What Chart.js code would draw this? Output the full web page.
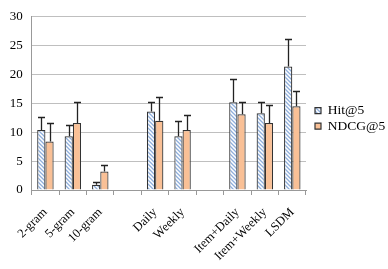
<!DOCTYPE html>
<html><head><meta charset="utf-8">
<script src="https://cdn.jsdelivr.net/npm/chart.js@4/dist/chart.umd.min.js"></script>
<style>html,body{margin:0;padding:0;background:#fff}#wrap{width:388px;height:269px}</style>
</head><body><div id="wrap"><canvas id="c" width="388" height="269"></canvas></div>
<script>
const categories = ['2-gram','5-gram','10-gram','','Daily','Weekly','','Item+Daily','Item+Weekly','LSDM'];
const hitValues = [10.4, 9.3, 0.9, null, 13.6, 9.3, null, 15.2, 13.3, 21.4];
const hitUpper  = [12.7, 11.3, 1.4, null, 15.3, 12.0, null, 19.3, 15.2, 26.1];
const ndcgValues = [8.4, 11.6, 3.2, null, 12.0, 10.4, null, 13.1, 11.6, 14.5];
const ndcgUpper  = [11.6, 15.3, 4.3, null, 16.1, 13.0, null, 15.2, 14.7, 17.1];
const yTicks = [0, 5, 10, 15, 20, 25, 30];
const seriesNames = ['Hit@5', 'NDCG@5'];

function hatch() {
  const p = document.createElement('canvas');
  p.width = 4; p.height = 4;
  const g = p.getContext('2d');
  g.fillStyle = '#ffffff'; g.fillRect(0,0,4,4);
  g.strokeStyle = '#8EAEDB'; g.lineWidth = 1.3;
  g.beginPath();
  g.moveTo(-1,-1); g.lineTo(5,5);
  g.moveTo(-1,3); g.lineTo(1,5);
  g.moveTo(3,-1); g.lineTo(5,1);
  g.stroke();
  return g.createPattern(p, 'repeat');
}
const font = "'Liberation Serif', 'Times New Roman', serif";
const uppers = [hitUpper, ndcgUpper];

const errorBars = {
  id: 'errorBars',
  afterDatasetsDraw(chart) {
    const c = chart.ctx, ys = chart.scales.y;
    c.save();
    c.strokeStyle = '#222'; c.lineWidth = 1.3;
    chart.data.datasets.forEach((ds, di) => {
      const meta = chart.getDatasetMeta(di);
      meta.data.forEach((bar, i) => {
        const up = uppers[di][i];
        if (up == null || ds.data[i] == null) return;
        const yt = Math.round(ys.getPixelForValue(up)) + 0.5;
        const x = Math.round(bar.x) + 0.5;
        c.beginPath();
        c.moveTo(x, bar.y); c.lineTo(x, yt);
        c.moveTo(x - 3.5, yt); c.lineTo(x + 3.5, yt);
        c.stroke();
      });
    });
    c.restore();
  }
};

function draw() {
  const ctx = document.getElementById('c').getContext('2d');
  new Chart(ctx, {
    type: 'bar',
    data: {
      labels: categories,
      datasets: [
        { label: seriesNames[0], data: hitValues, backgroundColor: hatch(), borderColor: '#333', borderWidth: 1.2 },
        { label: seriesNames[1], data: ndcgValues, backgroundColor: '#F9C096', borderColor: '#333', borderWidth: 1.2 }
      ]
    },
    options: {
      responsive: false,
      animation: false,
      devicePixelRatio: 1,
      layout: { padding: { top: 15, right: 0, left: 0, bottom: 0 } },
      datasets: { bar: { categoryPercentage: 0.6, barPercentage: 1.0 } },
      plugins: {
        legend: {
          position: 'right',
          fullSize: false,
          maxWidth: 75,
          title: { display: true, text: ' ', font: { family: font, size: 14, lineHeight: 1.2 }, padding: { top: 13.2, bottom: 0 } },
          labels: {
            font: { family: font, size: 13.5 },
            color: '#000',
            boxWidth: 6, boxHeight: 6,
            padding: 2
          }
        },
        tooltip: { enabled: false }
      },
      scales: {
        x: {
          grid: {
            offset: true,
            drawOnChartArea: true,
            color: (c) => (c.index === categories.length ? '#B5B5B5' : 'rgba(0,0,0,0)'),
            tickColor: '#999',
            tickLength: 5
          },
          border: { color: '#999' },
          ticks: {
            font: { family: font, size: 12.5 }, color: '#000',
            minRotation: 45, maxRotation: 45, autoSkip: false, padding: 10
          },
          afterFit(s) { s.height = 79; }
        },
        y: {
          min: 0, max: 30,
          afterBuildTicks(s) { s.ticks = yTicks.map(v => ({ value: v })); },
          grid: { color: '#BFBFBF', drawTicks: false },
          border: { color: '#999' },
          ticks: { font: { family: font, size: 13 }, color: '#000', padding: 9 },
          afterFit(s) { s.width = 31.7; }
        },
        gap: {
          type: 'linear', position: 'right', display: true,
          grid: { display: false, drawTicks: false },
          border: { display: false },
          ticks: { display: false },
          afterFit(s) { s.width = 7; }
        }
      }
    },
    plugins: [errorBars]
  });
}
Promise.all([
  document.fonts.load("12px 'Liberation Serif'"),
  document.fonts.load("13px 'Liberation Serif'")
]).then(draw, draw);
</script></body></html>
